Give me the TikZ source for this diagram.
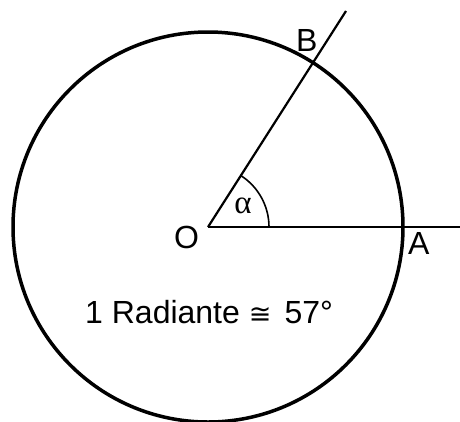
\documentclass[tikz,border=0pt]{standalone}
\usepackage{fontspec}
\setmainfont{Liberation Sans}
\newfontfamily\symfont{DejaVu Sans}
\newfontfamily\greekfont{Liberation Serif}
\begin{document}
\begin{tikzpicture}[x=1pt,y=-1pt,
  lbl/.style={inner sep=0pt,font=\fontsize{32}{36}\selectfont},
  ray/.style={line width=2.2pt},
  rim/.style={line width=3.5pt}]
\useasboundingbox (0,0) rectangle (460,421);
\coordinate (O) at (208,227);
\coordinate (Aend) at (460,227);
\coordinate (Bend) at (346,11);
\draw[rim] (O) circle[radius=195];
\draw[ray] (O) -- (Aend);
\draw[ray] (O) -- (Bend);
\draw[line width=1.6pt] ([xshift=61pt]O) arc[start angle=0,end angle=-57,radius=61];
\node[lbl,anchor=base west] (lO) at (174,248) {O};
\node[lbl,anchor=base west] (lA) at (408,254) {A};
\node[lbl,anchor=base west] (lB) at (296,51) {B};
\node[inner sep=0pt,font=\greekfont\fontsize{33}{36}\selectfont] (alpha) at (243,206) {α};
\node[lbl,anchor=base west] (txt) at (85,323) {1 Radiante\hspace{9pt}{\symfont\fontsize{27}{28}\selectfont ≅}\hspace{13pt}57°};
\end{tikzpicture}
\end{document}
